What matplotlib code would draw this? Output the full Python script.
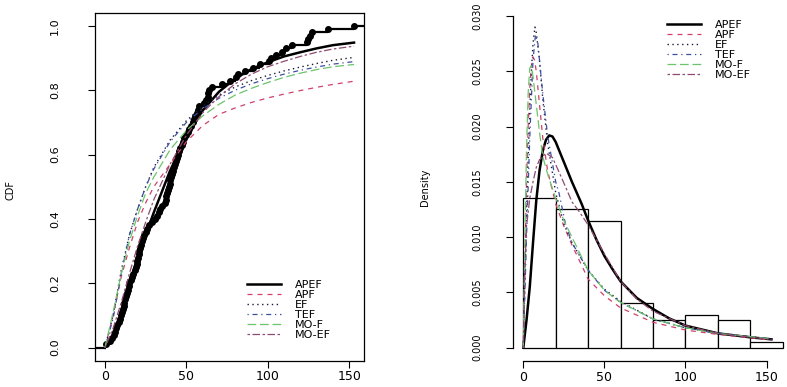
import numpy as np
import matplotlib
matplotlib.use("Agg")
from matplotlib import pyplot as plt

sample = [0.5, 3, 4.5, 5.5, 6.3, 7, 7.7, 8.4, 9.1, 9.8,
          10.4, 11, 11.5, 12, 12.5, 13, 13.5, 14, 14.5, 15,
          15.8, 16.6, 17.4, 18.2, 18.9, 19.5, 19.9,
          20.3, 20.8, 21.2, 21.8, 22.4, 23, 23.5, 24, 25, 26,
          27, 29, 31, 32, 33, 34, 35, 36.6, 37.2, 37.8,
          38.4, 39, 39.6, 39.8, 39.9,
          40.4, 41, 41.7, 42.3, 42.9, 43.5, 44.1, 44.7, 45.5, 46.3,
          47.1, 47.9, 48.8, 49.8, 50.8, 51.8, 52.9, 54, 54.8, 55.6,
          56.4, 57.2, 58,
          61, 62, 63, 63.5, 64, 66, 72, 77,
          80.5, 82, 86, 91, 95,
          101, 102, 105, 108.5, 111, 114.7,
          124, 125, 126, 127, 137,
          153]
bins = [0, 20, 40, 60, 80, 100, 120, 140, 160]

models = ["APEF", "APF", "EF", "TEF", "MO-F", "MO-EF"]

# fitted CDFs, read at these x
cdf_x = [0, 5, 10, 15, 20, 25, 30, 40, 50, 60, 70, 80, 90, 100, 110, 120, 130, 140, 153]
cdf_apef = [0, 0.035, 0.105, 0.19, 0.27, 0.35, 0.42, 0.55, 0.655, 0.737, 0.795, 0.836,
            0.866, 0.887, 0.905, 0.918, 0.93, 0.94, 0.948]
cdf_apf = [0, 0.10, 0.22, 0.31, 0.39, 0.45, 0.50, 0.57, 0.64, 0.69, 0.725, 0.745,
           0.762, 0.776, 0.788, 0.799, 0.809, 0.818, 0.828]
cdf_ef = [0, 0.10, 0.24, 0.35, 0.43, 0.50, 0.56, 0.645, 0.705, 0.75, 0.785, 0.81,
          0.83, 0.846, 0.86, 0.872, 0.883, 0.893, 0.902]
cdf_tef = [0, 0.09, 0.23, 0.35, 0.43, 0.50, 0.555, 0.64, 0.70, 0.742, 0.775, 0.80,
           0.82, 0.836, 0.85, 0.862, 0.872, 0.881, 0.889]
cdf_mof = [0, 0.11, 0.23, 0.33, 0.41, 0.48, 0.53, 0.615, 0.675, 0.72, 0.756, 0.785,
           0.806, 0.824, 0.84, 0.853, 0.864, 0.873, 0.88]
cdf_moef = [0, 0.06, 0.14, 0.23, 0.315, 0.39, 0.46, 0.57, 0.66, 0.73, 0.78, 0.82,
            0.85, 0.873, 0.89, 0.905, 0.918, 0.928, 0.937]

# fitted densities
pdf_apef_x = [0, 2, 4, 6, 8, 10, 12, 14, 16, 18, 20, 25, 30, 36, 40, 45, 50, 55, 60,
              70, 80, 90, 100, 120, 140, 153]
pdf_apef = [0, 0.0025, 0.0055, 0.0095, 0.0133, 0.016, 0.0178, 0.0188, 0.0192, 0.0191,
            0.0186, 0.0168, 0.015, 0.013, 0.0115, 0.0098, 0.0083, 0.0071, 0.006,
            0.0045, 0.0035, 0.00265, 0.002, 0.0013, 0.00094, 0.00076]
pdf_apf_x = [0, 1, 2, 3, 4, 5, 6, 7, 8, 10, 12, 15, 20, 25, 30, 40, 50, 60, 80, 100,
             120, 140, 153]
pdf_apf = [0, 0.008, 0.015, 0.020, 0.0235, 0.0255, 0.0263, 0.026, 0.025, 0.022, 0.019,
           0.016, 0.013, 0.011, 0.0093, 0.0062, 0.0047, 0.0036, 0.0023, 0.0016,
           0.0012, 0.0009, 0.0007]
pdf_ef_x = [0, 1, 2, 3, 4, 5, 6, 7.2, 8, 10, 12, 15, 20, 25, 30, 40, 50, 60, 80, 100,
            120, 140, 153]
pdf_ef = [0, 0.006, 0.012, 0.017, 0.0215, 0.025, 0.0275, 0.029, 0.0285, 0.026, 0.0225,
          0.0185, 0.014, 0.0112, 0.0095, 0.007, 0.0053, 0.0042, 0.0026, 0.0018,
          0.0013, 0.001, 0.0008]
pdf_tef_x = [0, 2, 4, 6, 7.5, 9, 12, 15, 20, 22, 26, 30, 40, 50, 60, 80, 100, 120,
             140, 153]
pdf_tef = [0, 0.010, 0.019, 0.026, 0.0283, 0.0275, 0.023, 0.0192, 0.015, 0.014, 0.0112,
           0.0095, 0.007, 0.0052, 0.0041, 0.0026, 0.0018, 0.0013, 0.001, 0.0008]
pdf_mof_x = [0, 1, 2, 3, 4, 5, 6, 8, 10, 12, 15, 20, 25, 30, 40, 50, 60, 80, 100, 120,
             140, 153]
pdf_mof = [0, 0.010, 0.018, 0.023, 0.0253, 0.0255, 0.0245, 0.022, 0.0195, 0.0173,
           0.0157, 0.0135, 0.0115, 0.010, 0.007, 0.0052, 0.0041, 0.0026, 0.0018,
           0.0013, 0.001, 0.0008]
pdf_moef_x = [0, 1, 2, 4, 6, 8, 10, 14, 18, 22, 25, 30, 35, 40, 50, 60, 70, 80, 100,
              120, 140, 153]
pdf_moef = [0, 0.007, 0.011, 0.0135, 0.015, 0.0163, 0.017, 0.0176, 0.0172, 0.0159,
            0.0149, 0.0132, 0.0122, 0.0111, 0.0085, 0.006, 0.0044, 0.0033, 0.002,
            0.0013, 0.00095, 0.00075]

cdfs = [cdf_apef, cdf_apf, cdf_ef, cdf_tef, cdf_mof, cdf_moef]
pdfs = [(pdf_apef_x, pdf_apef), (pdf_apf_x, pdf_apf), (pdf_ef_x, pdf_ef),
        (pdf_tef_x, pdf_tef), (pdf_mof_x, pdf_mof), (pdf_moef_x, pdf_moef)]

colors = ["black", "#d0406a", "#1a1a3a", "#3c4fa0", "#6cc46c", "#8e4a70"]
styles = ["-", (0, (4, 4)), (0, (1, 2.5)), (0, (1, 3, 4, 3)), (0, (7, 3)), (0, (2, 2, 6, 2))]
widths = [1.8, 0.9, 1.0, 0.9, 0.9, 0.9]

plt.rcParams['font.family'] = ['DejaVu Sans']

W, H = 787, 387
fig = plt.figure(figsize=(W / 100, H / 100), dpi=100)

leg_kw = dict(frameon=False, fontsize=8, handlelength=3.1, handletextpad=1.2,
              labelspacing=0.0, borderpad=0, borderaxespad=0,
              bbox_transform=fig.transFigure, loc="upper left")

# ---- left: empirical and fitted CDFs
ax1 = fig.add_axes([95 / W, 1 - 360.5 / H, 269 / W, 347.5 / H])
xs = np.sort(np.array(sample))
Fn = np.arange(1, len(xs) + 1) / len(xs)
ax1.hlines(Fn[:-1], xs[:-1], xs[1:], color="black", lw=1.6)
ax1.hlines([0], [-20], [xs[0]], color="black", lw=1.6)
ax1.hlines([1], [xs[-1]], [200], color="black", lw=1.6)
ax1.plot(xs, Fn, "o", color="black", ms=4, mec="black")
for i, m in enumerate(models):
    ax1.plot(cdf_x, cdfs[i], color=colors[i], ls=styles[i], lw=widths[i], label=m)
ax1.set_xlim(-6.12, 159.12)
ax1.set_ylim(-0.04, 1.04)
ax1.set_xticks([0, 50, 100, 150])
ax1.set_yticks([0, 0.2, 0.4, 0.6, 0.8, 1.0])
ax1.set_yticklabels(["0.0", "0.2", "0.4", "0.6", "0.8", "1.0"], rotation=90, va="center")
ax1.tick_params(axis="x", length=5, width=0.8, pad=2, labelsize=9)
ax1.tick_params(axis="y", length=5, width=0.8, pad=20, labelsize=8)
for s in ax1.spines.values():
    s.set_linewidth(0.9)
ax1.set_ylabel("CDF", fontsize=7)
ax1.yaxis.set_label_coords(-0.295, 0.49)
ax1.legend(bbox_to_anchor=(247 / W, 1 - 280 / H), **leg_kw)

# ---- right: histogram and fitted densities
ax2 = fig.add_axes([512.9 / W, 1 - 361 / H, 280.3 / W, 358.3 / H])
ax2.hist(sample, bins=bins, density=True, facecolor="white", edgecolor="black", lw=0.9)
for i, m in enumerate(models):
    px, py = pdfs[i]
    ax2.plot(px, py, color=colors[i], ls=styles[i], lw=widths[i], label=m)
ax2.set_xlim(-6.4, 166.4)
ax2.set_ylim(-0.0012, 0.0312)
ax2.set_xticks([0, 50, 100, 150])
yt = [0, 0.005, 0.010, 0.015, 0.020, 0.025, 0.030]
ax2.set_yticks(yt)
ax2.set_yticklabels(["%.3f" % v for v in yt], rotation=90, va="center")
ax2.spines["top"].set_visible(False)
ax2.spines["right"].set_visible(False)
ax2.spines["left"].set_bounds(0, 0.03)
ax2.spines["bottom"].set_bounds(0, 150)
for s in ax2.spines.values():
    s.set_linewidth(0.9)
ax2.tick_params(axis="x", length=5, width=0.8, pad=2, labelsize=9)
ax2.tick_params(axis="y", length=5, width=0.8, pad=17, labelsize=7)
ax2.set_ylabel("Density", fontsize=7)
ax2.yaxis.set_label_coords(-0.296, 0.486)
ax2.legend(bbox_to_anchor=(667 / W, 1 - 19.5 / H), **leg_kw)

fig.savefig("out.png", dpi=100)
